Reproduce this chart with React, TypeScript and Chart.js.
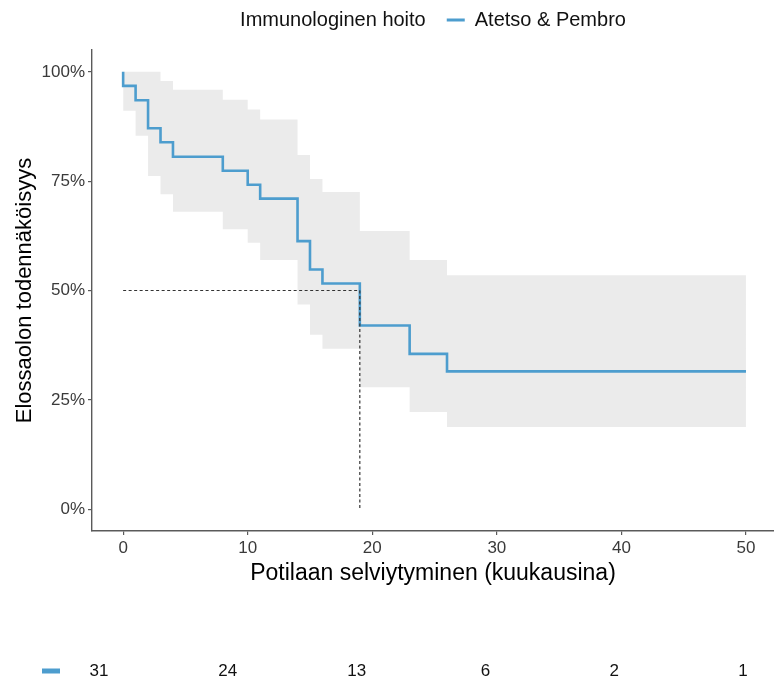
import React, { useEffect, useRef } from 'react';
import { Chart, registerables } from 'chart.js';

Chart.register(...registerables);

const legendTitle = 'Immunologinen hoito';
const seriesLabel = 'Atetso & Pembro';
const xTitle = 'Potilaan selviytyminen (kuukausina)';
const yTitle = 'Elossaolon todennäköisyys';

const kmTimes = [0, 0, 1, 2, 3, 4, 8, 10, 11, 14, 15, 16, 19, 23, 26, 50];
const kmSurv = [100, 96.8, 93.5, 87.1, 83.9, 80.6, 77.4, 74.2, 71.0, 61.3, 54.8, 51.6, 42.0, 35.5, 31.5, 31.5];

const ciTimes = [0, 1, 2, 3, 4, 8, 10, 11, 14, 15, 16, 19, 23, 26, 50];
const ciUpper = [100, 100, 100, 97.9, 95.9, 93.6, 91.4, 89.1, 81.0, 75.5, 72.5, 63.6, 57.0, 53.5, 53.5];
const ciLower = [91.1, 85.4, 76.2, 72.0, 68.0, 64.0, 60.9, 57.0, 46.8, 39.9, 36.7, 27.9, 22.2, 18.8, 18.8];

const medianTime = 19;
const medianSurv = 50;

const xTicks = [0, 10, 20, 30, 40, 50];
const yTicks = [0, 25, 50, 75, 100];

const riskTimes = [0, 10, 20, 30, 40, 50];
const riskCounts = [31, 24, 13, 6, 2, 1];

const BLUE = '#4d9dce';
const FONT = '"Liberation Sans", Arial, Helvetica, sans-serif';

const decorPlugin = {
  id: 'decor',
  afterDraw(chart: any) {
    const ctx = chart.ctx as CanvasRenderingContext2D;
    const { left, right, top, bottom } = chart.chartArea;
    ctx.save();

    // Legend (top)
    ctx.font = `20px ${FONT}`;
    ctx.textBaseline = 'middle';
    ctx.textAlign = 'left';
    ctx.fillStyle = '#111';
    const wTitle = ctx.measureText(legendTitle).width;
    const wLabel = ctx.measureText(seriesLabel).width;
    const gap1 = 21, dashW = 18, gap2 = 10;
    const total = wTitle + gap1 + dashW + gap2 + wLabel;
    let lx = (left + right) / 2 - total / 2;
    const ly = 20;
    ctx.fillText(legendTitle, lx, ly);
    lx += wTitle + gap1;
    ctx.strokeStyle = BLUE;
    ctx.lineWidth = 3;
    ctx.beginPath();
    ctx.moveTo(lx, ly);
    ctx.lineTo(lx + dashW, ly);
    ctx.stroke();
    lx += dashW + gap2;
    ctx.fillStyle = '#111';
    ctx.fillText(seriesLabel, lx, ly);

    // Axis titles
    ctx.fillStyle = '#000';
    ctx.font = `23px ${FONT}`;
    ctx.textAlign = 'center';
    ctx.fillText(xTitle, (left + right) / 2, 574);
    ctx.save();
    ctx.translate(25, (top + bottom) / 2);
    ctx.rotate(-Math.PI / 2);
    ctx.font = `22px ${FONT}`;
    ctx.fillText(yTitle, 0, 0);
    ctx.restore();

    // Risk table
    const xr = chart.scales.xr;
    const ry = 671;
    ctx.strokeStyle = BLUE;
    ctx.lineWidth = 5;
    ctx.lineCap = 'butt';
    ctx.beginPath();
    ctx.moveTo(42, ry);
    ctx.lineTo(60, ry);
    ctx.stroke();
    ctx.fillStyle = '#111';
    ctx.font = `17px ${FONT}`;
    ctx.textAlign = 'center';
    riskTimes.forEach((t, i) => {
      ctx.fillText(String(riskCounts[i]), xr.getPixelForValue(t), ry);
    });

    ctx.restore();
  },
};

export default function App() {
  const ref = useRef<HTMLCanvasElement | null>(null);

  useEffect(() => {
    if (!ref.current) return;
    const km = kmTimes.map((t, i) => ({ x: t, y: kmSurv[i] }));
    const up = ciTimes.map((t, i) => ({ x: t, y: ciUpper[i] }));
    const lo = ciTimes.map((t, i) => ({ x: t, y: ciLower[i] }));
    const medH = [{ x: 0, y: medianSurv }, { x: medianTime, y: medianSurv }];
    const medV = [{ x: medianTime, y: medianSurv }, { x: medianTime, y: 0 }];

    const axisColor = '#5a5a5a';
    const chart = new Chart(ref.current, {
      type: 'line',
      data: {
        datasets: [
          {
            label: seriesLabel,
            data: km,
            stepped: 'before',
            borderColor: BLUE,
            borderWidth: 2.6,
            pointRadius: 0,
            fill: false,
            order: 1,
          },
          {
            label: 'medianH',
            data: medH,
            borderColor: '#333',
            borderWidth: 1.2,
            borderDash: [3, 2.5],
            pointRadius: 0,
            fill: false,
            order: 0,
          },
          {
            label: 'medianV',
            data: medV,
            borderColor: '#333',
            borderWidth: 1.2,
            borderDash: [3, 2.5],
            pointRadius: 0,
            fill: false,
            order: 0,
          },
          {
            label: 'upper',
            data: up,
            stepped: 'before',
            borderWidth: 0,
            borderColor: 'rgba(0,0,0,0)',
            backgroundColor: '#ebebeb',
            pointRadius: 0,
            fill: '+1',
            order: 2,
          },
          {
            label: 'lower',
            data: lo,
            stepped: 'before',
            borderWidth: 0,
            borderColor: 'rgba(0,0,0,0)',
            pointRadius: 0,
            fill: false,
            order: 2,
          },
        ],
      },
      options: {
        responsive: false,
        animation: false,
        devicePixelRatio: 1,
        layout: { padding: { top: 50, left: 0, right: 0, bottom: 0 } },
        plugins: {
          legend: { display: false },
          tooltip: { enabled: false },
          title: { display: false },
        },
        scales: {
          x: {
            type: 'linear',
            position: 'bottom',
            min: -2.5,
            max: 52.25,
            afterBuildTicks: (s: any) => {
              s.ticks = xTicks.map((v) => ({ value: v }));
            },
            afterFit: (s: any) => {
              s.height = 148;
            },
            grid: {
              display: true,
              drawOnChartArea: false,
              drawTicks: true,
              tickLength: 4,
              color: axisColor,
              lineWidth: 1.2,
            },
            border: { display: true, color: axisColor, width: 1.4 },
            ticks: {
              font: { size: 17, family: FONT },
              color: '#3a3a3a',
              padding: 3,
              maxRotation: 0,
              autoSkip: false,
            },
          },
          xr: {
            type: 'linear',
            axis: 'x',
            position: 'bottom',
            display: false,
            min: -0.543,
            max: 52.4,
          },
          y: {
            type: 'linear',
            min: -5,
            max: 105,
            afterBuildTicks: (s: any) => {
              s.ticks = yTicks.map((v) => ({ value: v }));
            },
            afterFit: (s: any) => {
              s.width = 92;
            },
            grid: {
              display: true,
              drawOnChartArea: false,
              drawTicks: true,
              tickLength: 4,
              color: axisColor,
              lineWidth: 1.2,
            },
            border: { display: true, color: axisColor, width: 1.4 },
            ticks: {
              font: { size: 17, family: FONT },
              color: '#3a3a3a',
              padding: 3,
              callback: (v: any) => `${v}%`,
            },
          },
        },
      } as any,
      plugins: [decorPlugin],
    });
    return () => chart.destroy();
  }, []);

  return (
    <canvas
      ref={ref}
      width={774}
      height={679}
      style={{ position: 'absolute', left: 0, top: 0, display: 'block', background: '#fff' }}
    />
  );
}
